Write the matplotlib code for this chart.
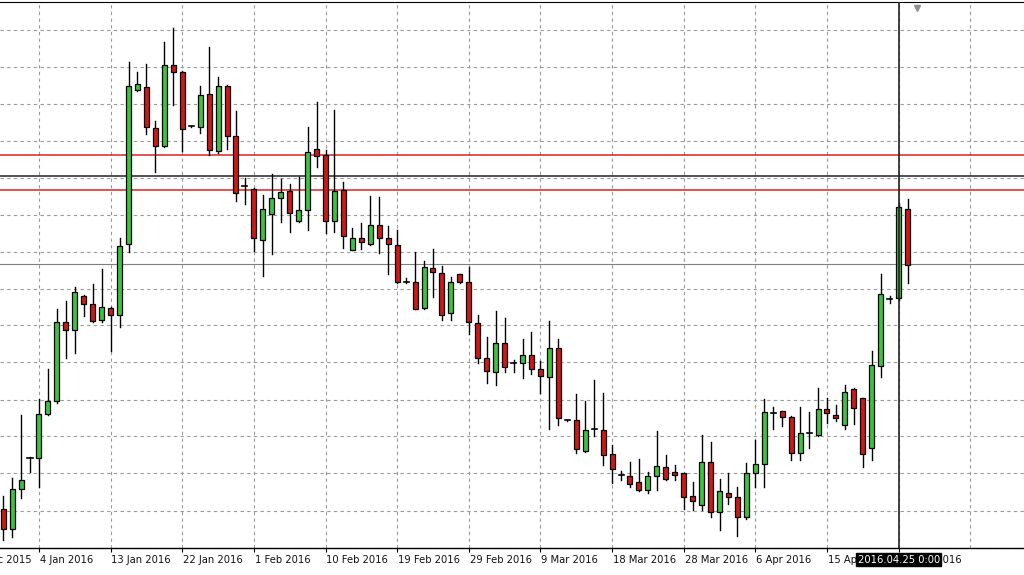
"""Daily candlestick chart in the MT4 style"""

import matplotlib
matplotlib.use("Agg")
from matplotlib import pyplot as plt
from matplotlib.patches import Rectangle
import matplotlib.transforms as mtrans

# price values (arbitrary points)
opens = [66, 46, 86, 117, 117, 161, 174, 253, 245, 279, 271, 255, 267, 260, 331, 485, 488, 447, 429, 510,
         503, 449, 448, 481, 424, 489, 439, 389, 386, 335, 361, 377, 384, 354, 365, 426, 420, 354, 385, 325,
         337, 331, 350, 337, 330, 293, 293, 267, 307, 302, 262, 301, 293, 252, 217, 203, 232, 212, 212, 220,
         206, 198, 227, 155, 155, 124, 146, 145, 121, 100, 99, 93, 85, 99, 108, 103, 102, 79, 70, 113,
         63, 82, 78, 58, 102, 111, 162, 164, 158, 122, 142, 140, 166, 160, 150, 186, 177, 127, 209, 276,
         277, 366]
highs = [79, 97, 160, 118, 176, 206, 266, 274, 288, 280, 291, 306, 268, 337, 513, 503, 511, 454, 533, 547,
         504, 449, 489, 528, 498, 490, 464, 397, 387, 380, 401, 396, 391, 398, 448, 473, 425, 465, 393, 347,
         352, 379, 378, 349, 345, 297, 323, 314, 326, 309, 298, 301, 308, 260, 238, 264, 257, 215, 236, 243,
         214, 254, 236, 155, 181, 174, 195, 182, 130, 104, 113, 116, 103, 144, 120, 110, 102, 93, 140, 133,
         96, 102, 88, 112, 135, 176, 168, 164, 159, 168, 163, 187, 177, 170, 190, 187, 177, 224, 301, 279,
         372, 376]
lows = [35, 38, 77, 103, 88, 160, 172, 217, 222, 259, 253, 253, 224, 248, 323, 484, 441, 403, 428, 470,
        424, 448, 442, 420, 422, 426, 374, 371, 324, 299, 321, 353, 343, 353, 345, 408, 342, 343, 327, 325,
        326, 330, 322, 301, 292, 292, 266, 266, 278, 255, 255, 292, 241, 212, 192, 190, 203, 203, 197, 201,
        182, 146, 150, 154, 122, 123, 139, 110, 92, 95, 88, 84, 82, 85, 95, 95, 66, 65, 65, 58,
        45, 71, 39, 56, 88, 88, 146, 149, 115, 115, 127, 139, 152, 154, 146, 151, 108, 115, 198, 272,
        275, 292]
closes = [46, 86, 95, 117, 161, 174, 253, 245, 283, 271, 254, 268, 260, 329, 489, 491, 448, 429, 510, 503,
          446, 449, 480, 425, 489, 439, 382, 389, 337, 366, 377, 383, 362, 365, 423, 419, 354, 384, 339, 337,
          333, 350, 337, 331, 293, 293, 266, 308, 303, 260, 293, 293, 253, 217, 204, 232, 208, 212, 220, 206,
          199, 227, 157, 155, 126, 145, 146, 120, 106, 100, 91, 85, 99, 109, 96, 100, 78, 74, 113, 63,
          84, 78, 58, 102, 111, 163, 162, 158, 122, 142, 142, 166, 162, 157, 183, 167, 121, 210, 281, 276,
          368, 310]

tick_bars = [-4, 4, 12, 20, 28, 36, 44, 52, 60, 68, 76, 84, 92, 100]
tick_labels = ["24 Dec 2015", "4 Jan 2016", "13 Jan 2016", "22 Jan 2016", "1 Feb 2016", "10 Feb 2016",
               "19 Feb 2016", "29 Feb 2016", "9 Mar 2016", "18 Mar 2016", "28 Mar 2016", "6 Apr 2016",
               "15 Apr 2016", "25 Apr 2016"]
grid_levels = [27, 64, 102, 139, 175, 213, 250, 286, 323, 360, 397, 434, 471, 508, 545]
red_levels = [420, 385]
black_level = 399
gray_level = 311
cursor_bar = 100
cursor_label = "2016.04.25 0:00"

plt.rcParams["font.family"] = "DejaVu Sans"
fig = plt.figure(figsize=(10.24, 5.75), dpi=100)
ax = fig.add_axes([0.0, 27 / 575, 1.0, 546 / 575])
ax.set_xlim(-0.35, 114)
ax.set_ylim(27, 573)

for lvl in grid_levels:
    ax.axhline(lvl, color="#9a9a9a", lw=0.8, ls=(0, (3, 3)), zorder=0)
for b in tick_bars[1:]:
    ax.axvline(b, color="#9a9a9a", lw=0.8, ls=(0, (3, 3)), zorder=0)
for b in range(108, 115, 8):
    ax.axvline(b, color="#9a9a9a", lw=0.8, ls=(0, (3, 3)), zorder=0)

for lvl in red_levels:
    ax.axhline(lvl, color="#e02020", lw=1.1, zorder=1)
ax.axhline(black_level, color="#222222", lw=1.1, zorder=1)
ax.axhline(gray_level, color="#808080", lw=0.8, zorder=1)

w = 0.56
for i, (o, h, l, c) in enumerate(zip(opens, highs, lows, closes)):
    ax.plot([i, i], [l, h], color="black", lw=1.0, zorder=2)
    if o == c:
        ax.plot([i - w / 2, i + w / 2], [o, c], color="black", lw=1.2, zorder=3)
        continue
    col = "#3cc43c" if c > o else "#d01818"
    ax.add_patch(Rectangle((i - w / 2, min(o, c)), w, abs(c - o), facecolor=col,
                           edgecolor="black", lw=0.9, zorder=3))

ax.axvline(cursor_bar, color="#222222", lw=1.2, zorder=4)
ax.plot([cursor_bar + 2], [567], marker="v", color="#909090", ms=5, clip_on=False)

ax.set_yticks(grid_levels)
ax.set_yticklabels([])
ax.tick_params(axis="y", length=0)
ax.set_xticks(tick_bars[1:])
ax.set_xticklabels([])
ax.tick_params(axis="x", direction="out", length=3, color="black")
for side in ["left", "right", "top"]:
    ax.spines[side].set_visible(False)
ax.spines["bottom"].set_linewidth(1.0)
ax.spines["top"].set_visible(True)
ax.spines["top"].set_linewidth(0.8)

trans = mtrans.blended_transform_factory(ax.transData, ax.transAxes)
for b, lab in zip(tick_bars, tick_labels):
    ax.text(b + 0.1, -0.012, lab, transform=trans, fontsize=7.2, ha="left", va="top",
            color="#111111", clip_on=False)
ax.text(cursor_bar, -0.012, cursor_label, transform=trans, fontsize=7.2, ha="center", va="top",
        color="white", clip_on=False, zorder=10,
        bbox=dict(boxstyle="square,pad=0.15", facecolor="black", edgecolor="black"))

fig.savefig("out.png", dpi=100)
plt.close()
